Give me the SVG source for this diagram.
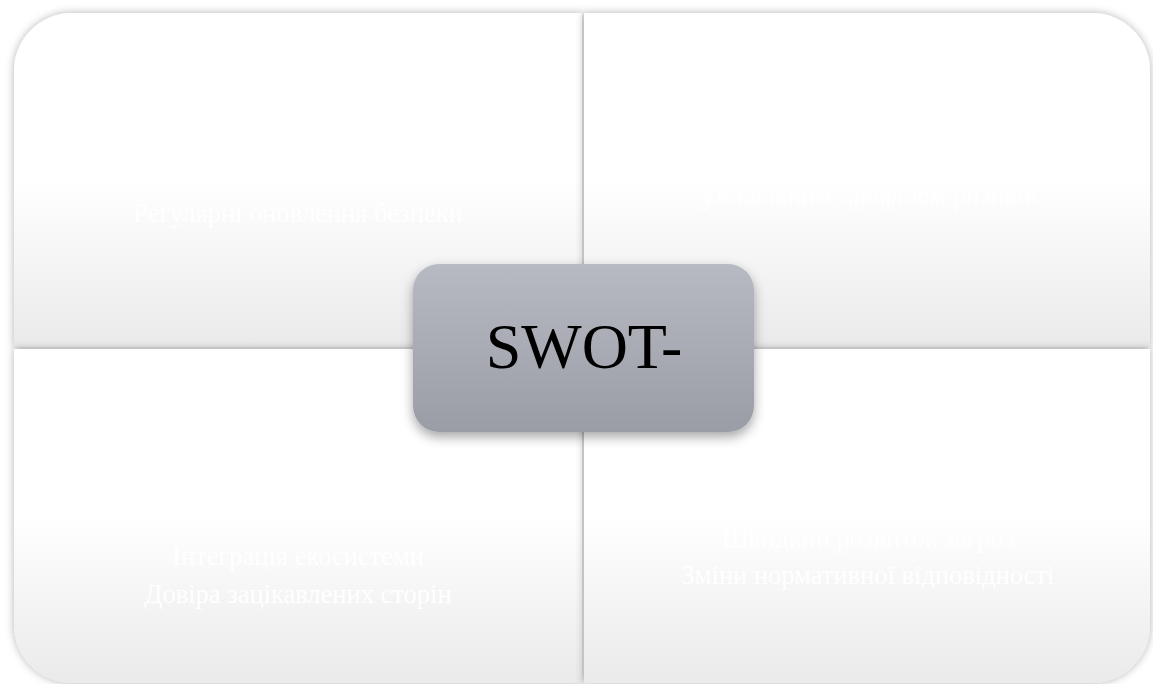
<svg xmlns="http://www.w3.org/2000/svg" width="1153" height="684" viewBox="0 0 1153 684">
  <defs>
    <linearGradient id="gq" x1="0" y1="0" x2="0" y2="1">
      <stop offset="0" stop-color="#ffffff"/>
      <stop offset="0.5" stop-color="#ffffff"/>
      <stop offset="1" stop-color="#eaeaea"/>
    </linearGradient>
    <linearGradient id="gc" x1="0" y1="0" x2="0" y2="1">
      <stop offset="0" stop-color="#b7bac2"/>
      <stop offset="1" stop-color="#9a9da6"/>
    </linearGradient>
    <filter id="sh" x="-10%" y="-10%" width="120%" height="120%">
      <feDropShadow dx="0" dy="0" stdDeviation="4" flood-color="#000" flood-opacity="0.3"/>
    </filter>
    <filter id="shc" x="-20%" y="-20%" width="140%" height="150%">
      <feDropShadow dx="0" dy="5" stdDeviation="6" flood-color="#000" flood-opacity="0.35"/>
    </filter>
    <clipPath id="cliptr">
      <rect x="584" y="188" width="566" height="160"/>
    </clipPath>
    <style>
      .q { fill: url(#gq); filter: url(#sh); }
      .t { font-family: "Liberation Serif", "Times New Roman", serif; font-size: 26.5px; fill: #ffffff; text-anchor: middle; }
    </style>
  </defs>
  <rect width="1153" height="684" fill="#ffffff"/>
  <g id="q-tl">
    <path class="q" d="M14,71 A58,58 0 0 1 72,13 L582,13 L582,347 L14,347 Z"/>
    <text class="t" x="298" y="222">Регулярні оновлення безпеки</text>
  </g>
  <g id="q-tr">
    <path class="q" d="M584,13 L1092,13 A58,58 0 0 1 1150,71 L1150,347 L584,347 Z"/>
    <text class="t" x="870" y="204" clip-path="url(#cliptr)">унікальним профілем ризиків</text>
  </g>
  <g id="q-bl">
    <path class="q" d="M14,349 L582,349 L582,683 L72,683 A58,58 0 0 1 14,625 Z"/>
    <text class="t" x="298" y="565">Інтеграція екосистеми</text>
    <text class="t" x="298" y="603">Довіра зацікавлених сторін</text>
  </g>
  <g id="q-br">
    <path class="q" d="M584,349 L1150,349 L1150,625 A58,58 0 0 1 1092,683 L584,683 Z"/>
    <text class="t" x="868" y="547">Швидкий розвиток загроз</text>
    <text class="t" x="868" y="584">Зміни нормативної відповідності</text>
  </g>
  <g id="connectors"></g>
  <g id="center">
    <rect x="413" y="264" width="341" height="168" rx="26" ry="26" fill="url(#gc)" filter="url(#shc)"/>
    <text x="584" y="368" font-family="Liberation Serif, 'Times New Roman', serif" font-size="64" fill="#000000" text-anchor="middle">SWOT-</text>
  </g>
</svg>
